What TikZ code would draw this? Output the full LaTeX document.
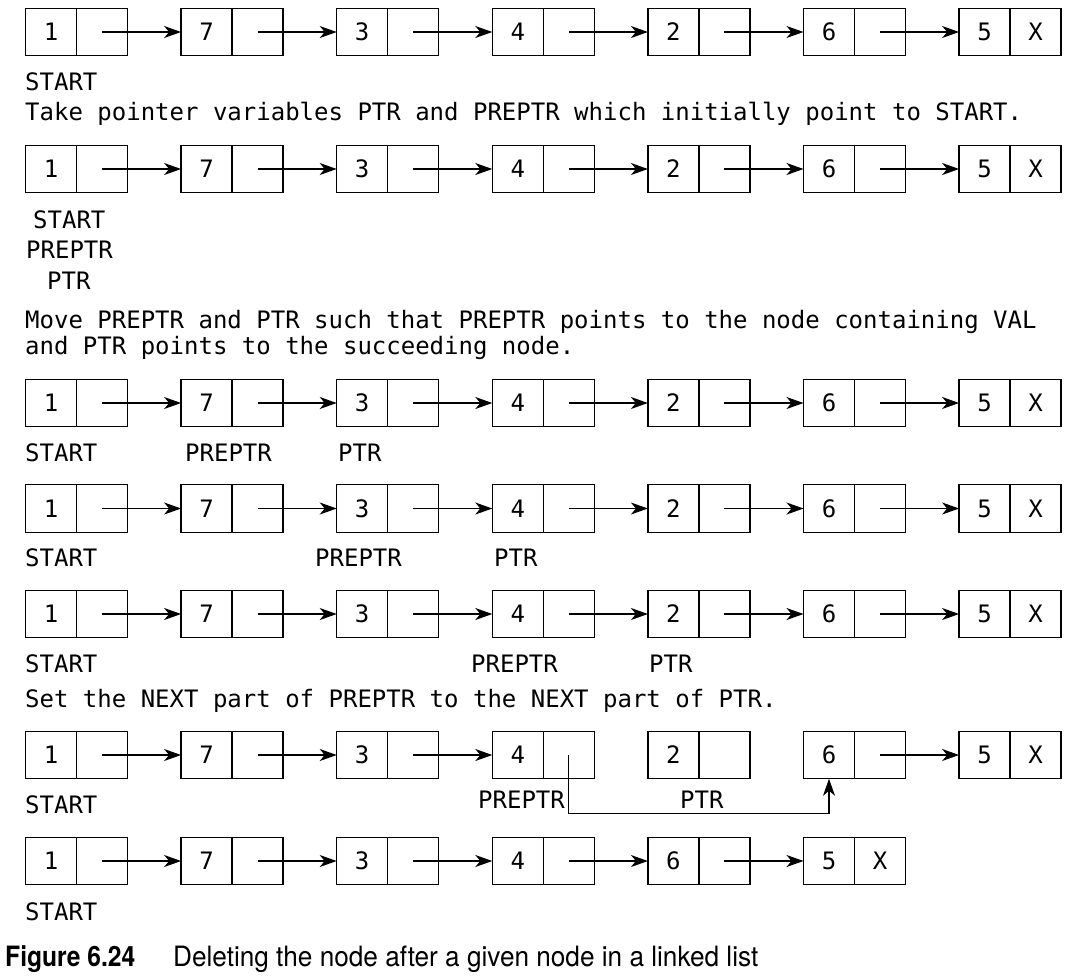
\documentclass[tikz,border=0pt]{standalone}
\usepackage{fontspec}
\newfontfamily\monofont{DejaVu Sans Mono}
\newfontfamily\capfont[FakeStretch=0.935]{TeX Gyre Heros}
\newfontfamily\capboldfont[FakeStretch=0.88]{TeX Gyre Heros Bold}
\usetikzlibrary{positioning,arrows.meta}

\tikzset{
    cell/.style={draw,line width=1.3pt,minimum width=51pt,minimum height=47.5pt,
        inner sep=0pt,outer sep=0pt,font=\monofont\fontsize{24}{28}\selectfont},
    link/.style={line width=1.3pt,-{Stealth[length=17pt,width=12pt,inset=5pt]}},
    lbl/.style={anchor=base west,inner sep=0pt,font=\monofont\fontsize{24}{28}\selectfont},
    captext/.style={anchor=base west,inner sep=0pt,font=\capfont\fontsize{28}{32}\selectfont},
}

% one linked list: row name, y of the row, values
\newcommand{\listrow}[3]{
    \foreach \v [count=\i] in {#3}{
        \node[cell] (d#1-\i) at ({51+155.6*(\i-1)},#2) {\v};
        \node[cell,right=0pt of d#1-\i] (p#1-\i) {};
        \xdef\lastcell{\i}
    }
    \node[inner sep=0pt,font=\monofont\fontsize{24}{28}\selectfont] (x#1) at (p#1-\lastcell) {X};
}

\begin{document}
\begin{tikzpicture}[x=1pt,y=1pt]
    \useasboundingbox (0,0) rectangle (1068,-978);

    % full lists
    \foreach \r/\y in {1/-32,2/-169,3/-403,4/-508.5,5/-614}{
        \listrow{\r}{\y}{1,7,3,4,2,6,5}
        \foreach \i [evaluate=\i as \j using int(\i+1)] in {1,...,6}
            \draw[link] (p\r-\i.center) -- (d\r-\j.west);
    }

    \node[lbl] (start1) at (25,-90.5) {START};
    \node[lbl] (step1) at (25,-120) {Take pointer variables PTR and PREPTR which initially point to START.};

    \node[lbl] (start2) at (33,-228) {START};
    \node[lbl] (pre2) at (26,-258.5) {PREPTR};
    \node[lbl] (ptr2) at (47,-289) {PTR};

    \node[lbl] (step2a) at (25,-328) {Move PREPTR and PTR such that PREPTR points to the node containing VAL};
    \node[lbl] (step2b) at (25,-354.5) {and PTR points to the succeeding node.};

    \node[lbl] (start3) at (25,-461) {START};
    \node[lbl] (pre3) at (185,-461) {PREPTR};
    \node[lbl] (ptr3) at (338,-461) {PTR};

    \node[lbl] (start4) at (25,-566.5) {START};
    \node[lbl] (pre4) at (315,-566.5) {PREPTR};
    \node[lbl] (ptr4) at (494,-566.5) {PTR};

    \node[lbl] (start5) at (25,-672.5) {START};
    \node[lbl] (pre5) at (471,-672.5) {PREPTR};
    \node[lbl] (ptr5) at (649,-672.5) {PTR};

    \node[lbl] (step3) at (25,-707) {Set the NEXT part of PREPTR to the NEXT part of PTR.};

    % node 2 taken out
    \listrow{6}{-755}{1,7,3,4,2,6,5}
    \foreach \i/\j in {1/2,2/3,3/4,6/7}
        \draw[link] (p6-\i.center) -- (d6-\j.west);
    \draw[link] (p6-4.center) |- ([yshift=-35pt]d6-6.south) -- (d6-6.south);

    \node[lbl] (start6) at (25,-813.5) {START};
    \node[lbl] (pre6) at (478,-808) {PREPTR};
    \node[lbl] (ptr6) at (680,-808) {PTR};

    % result
    \listrow{7}{-861}{1,7,3,4,6,5}
    \foreach \i [evaluate=\i as \j using int(\i+1)] in {1,...,5}
        \draw[link] (p7-\i.center) -- (d7-\j.west);

    \node[lbl] (start7) at (25,-920.5) {START};

    \node[captext,font=\capboldfont\fontsize{28}{32}\selectfont] (figno) at (5,-966.5) {Figure 6.24};
    \node[captext] (figtext) at (173,-966.5) {Deleting the node after a given node in a linked list};
\end{tikzpicture}
\end{document}
